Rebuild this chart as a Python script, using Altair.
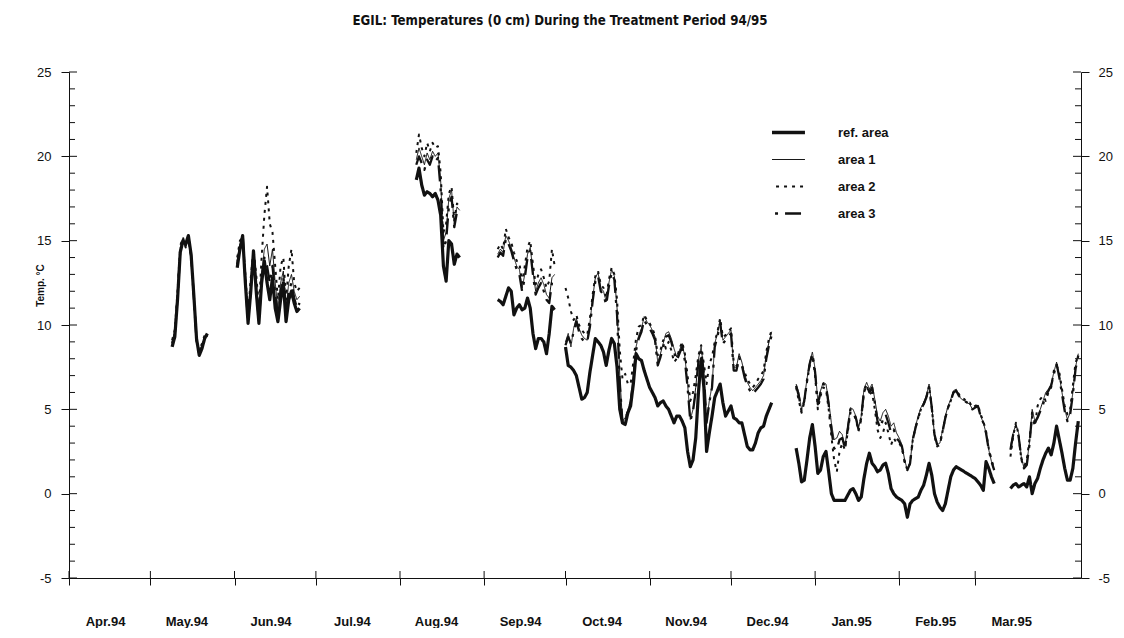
import altair as alt
import pandas as pd

TITLE = "EGIL: Temperatures (0 cm) During the Treatment Period 94/95"
SERIES = ["ref. area", "area 1", "area 2", "area 3"]
# first day of each measured stretch, counted in days from 1 Apr 1994
SEG_START = [38, 62, 128, 158, 183, 268, 347]

REF = [
    [8.7, 9.3, 11.5, 14.3, 15.0, 14.8, 15.3, 14.2, 11.8, 9.2, 8.2, 8.6, 9.2, 9.5],
    [13.4, 14.5, 15.3, 12.5, 10.1, 12.0, 14.4, 12.0, 10.1, 12.5, 13.8, 12.5, 11.5, 12.8, 11.0, 10.2,
     11.5, 12.5, 10.2, 11.5, 12.0, 11.3, 10.8, 11.0],
    [18.6, 19.3, 18.3, 17.7, 17.9, 17.8, 17.6, 17.8, 17.4, 16.5, 13.5, 12.6, 15.0, 14.8, 13.6, 14.2, 14.0],
    [11.5, 11.4, 11.2, 11.7, 12.2, 12.0, 10.6, 11.0, 11.2, 10.9, 11.0, 11.6, 11.0, 9.5, 8.6, 9.2,
     9.2, 9.0, 8.3, 9.5, 11.1, 10.9],
    [8.7, 7.6, 7.5, 7.3, 7.0, 6.3, 5.6, 5.7, 6.0, 7.2,
     8.2, 9.2, 9.0, 8.8, 8.4, 7.6, 8.5, 9.2, 8.9, 7.5,
     5.0, 4.2, 4.1, 4.8, 5.2, 6.5, 8.3, 8.0, 7.9, 7.3,
     6.8, 6.3, 6.0, 5.7, 5.2, 5.4, 5.5, 5.2, 5.0, 4.6,
     4.2, 4.6, 4.6, 4.3, 3.9, 2.5, 1.6, 2.0, 3.3, 6.0,
     8.0, 6.3, 2.5, 3.6, 4.6, 5.7, 6.1, 6.5, 5.4, 4.6,
     4.9, 5.2, 4.5, 4.4, 4.2, 4.2, 3.5, 2.8, 2.6, 2.6,
     3.0, 3.6, 3.9, 4.0, 4.6, 5.0, 5.4],
    [2.7, 1.8, 0.7, 0.8, 2.0, 3.3, 4.1, 2.8, 1.2, 1.4,
     2.2, 2.5, 1.3, 0.0, -0.4, -0.4, -0.4, -0.4, -0.4, -0.1,
     0.2, 0.3, 0.0, -0.4, -0.2, 0.9, 1.8, 2.4, 1.8, 1.6,
     1.3, 1.4, 1.7, 1.8, 1.2, 0.3, 0.0, -0.2, -0.3, -0.4,
     -0.6, -1.4, -0.6, -0.4, -0.3, -0.2, 0.2, 0.5, 1.1, 1.8,
     1.1, 0.0, -0.5, -0.8, -1.0, -0.6, 0.2, 1.0, 1.4, 1.6,
     1.5, 1.4, 1.3, 1.2, 1.1, 1.0, 0.9, 0.7, 0.5, 0.2,
     1.9, 1.5, 1.0, 0.6],
    [0.3, 0.5, 0.6, 0.4, 0.5, 0.6, 0.4, 1.0, 0.0, 0.6, 0.9, 1.5, 2.0, 2.4, 2.7, 2.3, 3.0, 4.0, 3.2,
     2.4, 1.5, 0.8, 0.8, 1.5, 3.0, 4.3],
]

AREA1 = [
    [9.0, 9.6, 11.8, 14.6, 15.1, 14.7, 15.0, 14.0, 11.6, 9.0, 8.4, 8.8, 9.3, 9.4],
    [13.8, 14.8, 15.0, 12.8, 10.4, 12.3, 14.2, 12.5, 10.4, 13.0, 14.5, 14.8, 13.5, 14.5, 12.5, 11.0,
     12.5, 13.2, 11.0, 12.5, 13.0, 12.0, 11.5, 11.7],
    [19.8, 20.5, 20.0, 19.5, 20.2, 19.8, 20.3, 20.0, 20.2, 18.5, 15.0, 15.5, 17.5, 18.0, 16.0, 17.0, 16.8],
    [14.2, 14.5, 14.3, 15.3, 15.0, 14.6, 14.0, 13.5, 13.3, 12.2, 13.0, 14.2, 14.6, 13.2, 12.0, 12.5,
     12.8, 12.4, 11.8, 11.6, 12.8, 13.0],
    [9.0, 9.5, 8.7, 9.8, 10.4, 9.8, 9.4, 9.2, 9.1, 10.1,
     11.6, 12.8, 13.1, 12.2, 12.0, 11.4, 12.5, 13.3, 12.9, 11.0,
     7.0, 4.3, 4.5, 5.0, 5.5, 7.0, 8.7, 9.4, 9.8, 10.5,
     10.2, 10.0, 9.7, 9.3, 7.8, 8.3, 8.9, 9.5, 9.6, 9.2,
     8.6, 8.1, 8.5, 8.9, 8.1, 6.5, 4.4, 5.0, 6.3, 8.0,
     8.7, 7.3, 4.3, 5.5, 6.4, 8.9, 9.5, 10.3, 9.1, 9.3,
     9.5, 9.7, 7.5, 7.5, 8.3, 7.8, 7.1, 6.6, 6.3, 6.1,
     6.3, 6.5, 6.7, 7.0, 8.2, 9.0, 9.6],
    [6.5, 6.0, 5.0, 5.6, 6.8, 7.8, 8.4, 7.4, 5.5, 6.1,
     6.6, 6.5, 5.5, 4.2, 3.2, 3.3, 3.7, 3.5, 2.8, 4.0,
     5.1, 5.0, 4.6, 3.9, 4.6, 6.2, 6.6, 6.2, 6.5, 5.6,
     4.6, 4.3, 4.8, 5.0, 4.6, 4.0, 4.2, 3.6, 3.3, 2.9,
     2.0, 1.4, 1.8, 3.3, 4.0, 4.6, 5.1, 5.4, 5.8, 6.5,
     5.2, 3.5, 2.9, 3.0, 3.8, 4.6, 5.2, 5.6, 6.1, 6.2,
     5.8, 5.6, 5.5, 5.4, 5.3, 5.0, 5.1, 5.2, 4.6, 4.2,
     3.6, 2.6, 1.9, 1.4],
    [2.8, 3.6, 4.1, 3.6, 2.2, 1.5, 1.8, 3.0, 5.0, 4.3, 4.6, 5.0, 5.5, 6.0, 6.2, 6.5, 7.2, 7.8, 7.0,
     6.0, 5.0, 4.4, 4.8, 6.0, 7.5, 8.3],
]

AREA2 = [
    [9.1, 9.7, 12.0, 14.7, 15.2, 14.6, 15.1, 14.1, 11.7, 9.1, 8.5, 8.9, 9.4, 9.5],
    [14.0, 15.0, 15.2, 13.0, 10.6, 12.8, 14.5, 13.0, 11.0, 14.0, 16.5, 18.2, 16.0, 15.5, 13.5, 11.5,
     13.5, 14.0, 11.5, 13.5, 14.5, 12.5, 12.0, 12.2],
    [20.2, 21.3, 20.5, 20.0, 20.8, 20.3, 20.8, 20.5, 20.6, 19.0, 15.5, 16.0, 17.8, 18.2, 16.2, 17.2, 17.0],
    [14.5, 14.8, 14.5, 15.7, 15.2, 14.9, 14.3, 13.8, 13.7, 12.5, 13.5, 14.6, 15.0, 13.6, 12.4, 13.0,
     13.3, 12.8, 12.2, 12.6, 14.5, 13.5],
    [12.2, 11.6, 10.8, 10.3, 10.6, 10.0, 9.7, 9.5, 9.4, 10.4,
     11.8, 12.9, 13.2, 12.4, 12.2, 11.6, 12.7, 13.4, 13.0, 11.5,
     8.5, 6.8, 7.1, 6.5, 6.5, 7.8, 9.2, 9.9, 10.0, 10.6,
     10.3, 10.1, 9.8, 9.4, 8.2, 8.5, 9.1, 8.6, 9.0, 8.5,
     7.8, 8.0, 8.6, 9.0, 8.3, 7.0, 5.5, 6.0, 7.0, 8.2,
     8.8, 7.7, 6.5, 7.7, 8.1, 9.0, 9.6, 10.4, 9.3, 9.4,
     9.6, 9.8, 7.8, 7.6, 7.5, 7.6, 7.2, 6.8, 6.5, 6.3,
     6.5, 6.8, 7.0, 7.3, 8.4, 9.2, 9.7],
    [6.3, 5.5, 4.8, 5.4, 6.6, 7.6, 8.2, 7.0, 5.0, 5.8,
     6.3, 6.2, 5.0, 3.4, 2.0, 1.3, 2.5, 3.0, 2.6, 3.6,
     4.8, 4.8, 4.4, 3.7, 4.4, 6.0, 6.4, 5.9, 6.0, 5.0,
     3.8, 3.3, 3.6, 4.2, 3.6, 2.9, 3.3, 3.0, 3.0, 2.7,
     1.9, 1.4, 1.8, 3.2, 3.9, 4.5, 5.0, 5.3, 5.7, 6.4,
     5.1, 3.4, 2.8, 2.9, 3.7, 4.5, 5.1, 5.5, 6.0, 6.1,
     5.9, 5.7, 5.6, 5.4, 5.4, 5.1, 5.2, 5.3, 4.7, 4.3,
     3.7, 2.7, 2.0, 1.5],
    [2.2, 3.4, 4.2, 3.5, 2.0, 1.6, 2.0, 3.2, 4.6, 4.0, 5.2, 5.6, 5.8, 5.5, 6.0, 6.3, 7.3, 7.6, 7.2,
     6.2, 5.2, 4.7, 5.0, 6.4, 7.8, 8.1],
]

AREA3 = [
    [8.9, 9.5, 11.6, 14.4, 15.0, 14.7, 15.2, 14.1, 11.7, 9.1, 8.3, 8.7, 9.2, 9.4],
    [13.6, 14.6, 15.4, 12.6, 10.2, 12.2, 14.3, 12.2, 10.2, 12.8, 14.0, 13.5, 12.5, 13.5, 11.8, 10.6,
     12.0, 12.8, 10.6, 12.0, 12.5, 11.6, 11.0, 11.3],
    [19.5, 20.0, 19.6, 19.2, 19.8, 19.5, 20.0, 19.7, 19.9, 18.0, 14.5, 15.0, 17.0, 17.6, 15.8, 16.7, 16.5],
    [14.0, 14.3, 14.1, 15.1, 14.8, 14.4, 13.8, 13.3, 13.0, 12.0, 12.8, 14.0, 14.4, 13.0, 11.8, 12.2,
     12.5, 12.0, 11.5, 11.3, 12.5, 12.7],
    [8.8, 9.3, 8.9, 9.6, 10.2, 9.6, 9.2, 9.0, 9.0, 9.9,
     11.4, 12.6, 12.9, 12.0, 11.8, 11.2, 12.3, 13.1, 12.7, 10.6,
     6.6, 4.2, 4.4, 4.9, 5.4, 6.8, 8.5, 9.2, 9.6, 10.3,
     10.0, 9.8, 9.5, 9.1, 7.6, 8.1, 8.7, 9.3, 9.4, 9.0,
     8.4, 7.9, 8.3, 8.7, 7.9, 6.3, 4.3, 4.9, 6.1, 7.8,
     8.5, 7.1, 4.2, 5.4, 6.3, 8.7, 9.3, 10.1, 8.9, 9.1,
     9.3, 9.5, 7.3, 7.3, 8.1, 7.6, 6.9, 6.4, 6.1, 5.9,
     6.1, 6.3, 6.5, 6.8, 8.0, 8.8, 9.4],
    [6.4, 5.8, 4.9, 5.5, 6.7, 7.7, 8.3, 7.2, 5.3, 6.0,
     6.5, 6.4, 5.3, 3.8, 2.7, 2.6, 3.2, 3.3, 2.7, 3.8,
     5.0, 4.9, 4.5, 3.8, 4.5, 6.1, 6.5, 6.0, 6.3, 5.4,
     4.3, 3.9, 4.4, 4.7, 4.2, 3.6, 3.8, 3.3, 3.1, 2.8,
     1.9, 1.4, 1.8, 3.2, 3.9, 4.5, 5.0, 5.3, 5.7, 6.4,
     5.1, 3.5, 2.9, 3.0, 3.7, 4.5, 5.1, 5.5, 6.0, 6.1,
     5.8, 5.6, 5.5, 5.4, 5.3, 5.0, 5.1, 5.2, 4.6, 4.2,
     3.6, 2.6, 1.9, 1.4],
    [2.6, 3.5, 4.0, 3.4, 2.1, 1.5, 1.7, 2.9, 4.8, 4.2, 4.5, 4.9, 5.3, 5.8, 6.1, 6.4, 7.1, 7.7, 6.9,
     5.9, 4.9, 4.3, 4.7, 5.9, 7.4, 8.2],
]

MONTHS = [(1994, m) for m in range(4, 13)] + [(1995, m) for m in range(1, 4)]
Y_MAJOR = [-5, 0, 5, 10, 15, 20, 25]
Y_MINOR = [v for v in range(-5, 26) if v % 5 != 0]
WIDTH_OF = {"ref. area": 3.2, "area 1": 1.0, "area 2": 2.0, "area 3": 2.3}
DASHES = [[1, 0], [1, 0], [3, 5], [16, 7, 3, 7]]

FONT = "Liberation Sans, Arial, Helvetica, sans-serif"
NARROW = "Liberation Sans Narrow, Arial Narrow, DejaVu Sans Condensed, Liberation Sans, sans-serif"
INK = "#111111"
W, H = 1012, 506

base = pd.Timestamp("1994-04-01")
rows = []
for name, segs in zip(SERIES, [REF, AREA1, AREA2, AREA3]):
    for k, (start, vals) in enumerate(zip(SEG_START, segs)):
        for i, v in enumerate(vals):
            rows.append({
                "date": (base + pd.Timedelta(days=start + i)).strftime("%Y-%m-%d"),
                "value": v, "series": name, "seg": f"{name}-{k}", "w": WIDTH_OF[name],
            })
df = pd.DataFrame(rows)

xscale = alt.Scale(type="utc", nice=False, domain=[
    alt.DateTime(year=1994, month=4, date=1, utc=True),
    alt.DateTime(year=1995, month=4, date=9, utc=True)])
yscale = alt.Scale(domain=[-5, 25], nice=False, zero=False)


def x_axis():
    return alt.Axis(
        values=[alt.DateTime(year=y, month=m, date=1, utc=True) for y, m in MONTHS],
        format="%b.%y", labelOffset=36, labelPadding=30, tickSize=7, tickColor=INK,
        domainColor=INK, labelFont=FONT, labelFontSize=13, labelFontWeight="bold",
        labelColor=INK, labelFlush=False, labelOverlap=False, labelBound=False,
        grid=False, title=None,
    )


y_left = alt.Axis(
    orient="left", values=Y_MAJOR, tickSize=8, tickColor=INK, domainColor=INK,
    labelExpr="datum.value + ''",
    labelPadding=10, labelFont=FONT, labelFontSize=13, labelColor=INK, grid=False,
    title="Temp. °C", titleFont=FONT, titleFontSize=10, titleFontWeight="bold",
    titleColor=INK, titleAngle=270, titleX=-29, titleY=213, titleAlign="center",
    titleBaseline="middle",
)
y_right = alt.Axis(
    orient="right", values=Y_MAJOR, tickSize=8, tickColor=INK, domainColor=INK,
    labelExpr="datum.value + ''",
    labelPadding=9, labelFont=FONT, labelFontSize=13, labelColor=INK, grid=False,
    title=None,
)

legend = alt.Legend(
    title=None, orient="none", legendX=703, legendY=47, direction="vertical",
    symbolType="stroke", symbolSize=2800, symbolStrokeColor=INK, clipHeight=27,
    rowPadding=0, labelFont=FONT, labelFontSize=13, labelFontWeight="bold",
    labelColor=INK, labelOffset=53,
    symbolStrokeWidth={"expr": "datum.value == 'ref. area' ? 3.6 : datum.value == 'area 1' ? 1 : datum.value == 'area 2' ? 2.2 : 2.4"},
)

lines = alt.Chart(df).mark_line(color=INK, strokeJoin="round").encode(
    x=alt.X("date:T", scale=xscale, axis=x_axis()),
    y=alt.Y("value:Q", scale=yscale, axis=y_left),
    strokeDash=alt.StrokeDash("series:N", scale=alt.Scale(domain=SERIES, range=DASHES), legend=legend),
    strokeWidth=alt.StrokeWidth("w:Q", scale=None, legend=None),
    detail="seg:N",
)

minor_df = pd.DataFrame({"v": Y_MINOR})
major_df = pd.DataFrame({"v": Y_MAJOR})
month_df = pd.DataFrame({"d": [f"{y}-{m:02d}-01" for y, m in MONTHS]})

left_minor = alt.Chart(minor_df).mark_rule(color=INK).encode(
    y=alt.Y("v:Q", scale=yscale, axis=None), x=alt.value(0), x2=alt.value(6))
left_major = alt.Chart(major_df).mark_rule(color=INK).encode(
    y=alt.Y("v:Q", scale=yscale, axis=None), x=alt.value(0), x2=alt.value(8))
right_minor = alt.Chart(minor_df).mark_rule(color=INK).encode(
    y=alt.Y("v:Q", scale=yscale, axis=None), x=alt.value(W - 6), x2=alt.value(W))
right_major = alt.Chart(major_df).mark_rule(color=INK).encode(
    y=alt.Y("v:Q", scale=yscale, axis=y_right), x=alt.value(W - 8), x2=alt.value(W))
bottom_in = alt.Chart(month_df).mark_rule(color=INK).encode(
    x=alt.X("d:T", scale=xscale, axis=x_axis()), y=alt.value(H), y2=alt.value(H - 7))

chart = alt.layer(
    left_minor, left_major, right_minor, right_major, bottom_in, lines
).resolve_axis(y="independent").properties(
    width=W, height=H,
    title=alt.TitleParams(TITLE, font=NARROW, fontSize=13.2, fontWeight="bold", color=INK,
                          anchor="middle", frame="group", offset=25, baseline="bottom", dx=-15),
    autosize=alt.AutoSizeParams(type="none"),
    padding={"left": 61, "top": 64, "right": 35, "bottom": 50},
).configure_view(stroke=None)

chart.save("out.html", embed_options={"renderer": "svg", "actions": False})
